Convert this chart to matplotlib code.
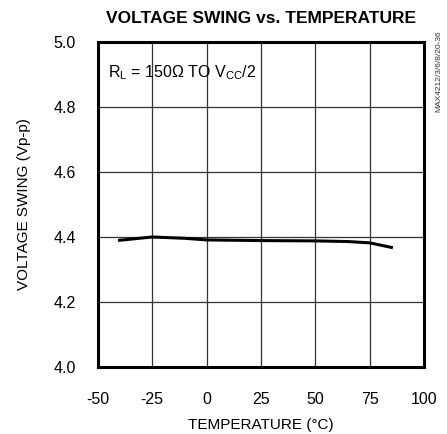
import matplotlib
matplotlib.use("Agg")
import matplotlib.pyplot as plt
import numpy as np

temps = [-40, -25, -10, 0, 25, 50, 65, 75, 85]
swing = [4.390, 4.400, 4.396, 4.391, 4.389, 4.388, 4.386, 4.382, 4.368]
xticks = [-50, -25, 0, 25, 50, 75, 100]
yticks = [4.0, 4.2, 4.4, 4.6, 4.8, 5.0]

fam = ['Liberation Sans', 'DejaVu Sans']
plt.rcParams['font.family'] = fam
plt.rcParams['mathtext.fontset'] = 'custom'
plt.rcParams['mathtext.rm'] = 'Liberation Sans'

fig = plt.figure(figsize=(4.47, 4.34), dpi=100)
ax = fig.add_axes([0.219, 0.1544, 0.7295, 0.7488])
ax.plot(temps, swing, color='black', lw=2.2, zorder=3)
ax.set_xlim(-50, 100)
ax.set_ylim(4.0, 5.0)
ax.set_xticks(xticks)
ax.set_yticks(yticks)
ax.set_xticklabels([str(t) for t in xticks])
ax.set_yticklabels([f"{v:.1f}" for v in yticks])
ax.grid(True, color='#333333', lw=0.9)
ax.tick_params(length=0, labelsize=11.5)
ax.tick_params(axis='x', pad=18)
ax.tick_params(axis='y', pad=16)
for s in ax.spines.values():
    s.set_linewidth(2.2)
ax.set_xlabel('TEMPERATURE (°C)', fontsize=11, labelpad=8)
ax.set_ylabel('VOLTAGE SWING (Vp-p)', fontsize=11, labelpad=16)
fig.text(0.585, 0.958, 'VOLTAGE SWING vs. TEMPERATURE', ha='center', va='center',
         fontsize=12.5, fontweight='bold')
ax.text(-45.5, 4.905, r'R$_\mathrm{L}$ = 150Ω TO V$_\mathrm{CC}$/2', fontsize=11.5,
        ha='left', va='center')
fig.text(0.982, 0.931, 'MAX4212/3/6/8/20-36', rotation=90, ha='center', va='top',
         fontsize=6, color='#333333')
fig.savefig('out.png', dpi=100)
